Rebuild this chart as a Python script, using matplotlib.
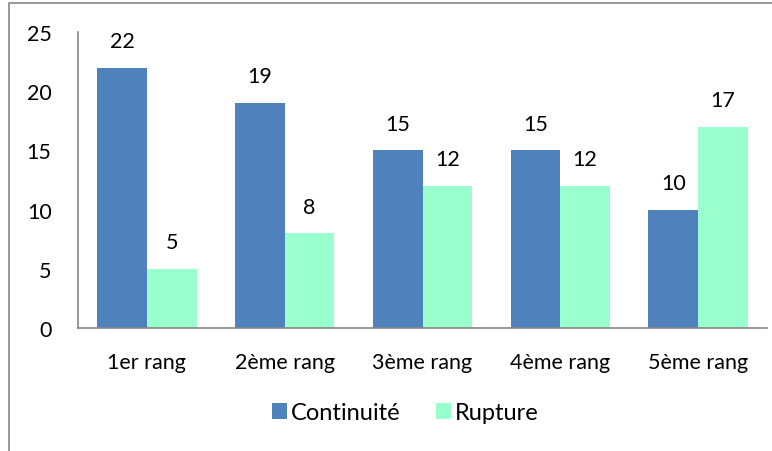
import matplotlib
matplotlib.use("Agg")
import matplotlib.pyplot as plt
import numpy as np
from matplotlib.patches import Rectangle

categories = ["1er rang", "2ème rang", "3ème rang", "4ème rang", "5ème rang"]
continuite = [22, 19, 15, 15, 10]
rupture = [5, 8, 12, 12, 17]
series_names = ["Continuité", "Rupture"]
yticks = [0, 5, 10, 15, 20, 25]

W, H = 772, 452
plt.rcParams['font.family'] = ['Lato', 'DejaVu Sans']
fig = plt.figure(figsize=(W/100, H/100), dpi=100)

# outer frame of chart area
fig.add_artist(Rectangle((8.5/W, -0.1), 2, 1 - 3.5/H + 0.1, transform=fig.transFigure,
                         fill=False, edgecolor='#868686', linewidth=1.2))

ax = fig.add_axes([78/W, 1 - 329/H, (767-78)/W, (329-33)/H])
x = np.arange(len(categories))
bw = 0.36
blue = '#4F81BD'
green = '#99FFCC'
fs = 15.5
b1 = ax.bar(x - bw/2, continuite, bw, color=blue, label=series_names[0])
b2 = ax.bar(x + bw/2, rupture, bw, color=green, label=series_names[1])
for bars, vals in ((b1, continuite), (b2, rupture)):
    for r, v in zip(bars, vals):
        ax.annotate(str(v), (r.get_x() + r.get_width()/2, v), xytext=(0, 12),
                    textcoords='offset points', ha='center', va='bottom', fontsize=fs)

ax.set_xlim(-0.5, len(categories) - 0.5)
ax.set_ylim(0, 25)
ax.set_yticks(yticks)
ax.set_yticklabels([str(t) for t in yticks], fontsize=fs)
ax.set_xticks(x)
ax.set_xticklabels(categories, fontsize=fs)
ax.tick_params(axis='both', length=0)
ax.tick_params(axis='y', pad=19)
ax.tick_params(axis='x', pad=17)
for s in ['top', 'right']:
    ax.spines[s].set_visible(False)
for s in ['left', 'bottom']:
    ax.spines[s].set_color('#868686')
    ax.spines[s].set_linewidth(1.2)

leg = fig.legend(handles=[b1, b2], labels=series_names, loc='center',
                 bbox_to_anchor=(405/W, 1 - 414/H), ncol=2, frameon=False,
                 fontsize=17, handlelength=0.65, handleheight=0.65,
                 handletextpad=0.15, columnspacing=1.5)

fig.savefig("out.png", dpi=100)
